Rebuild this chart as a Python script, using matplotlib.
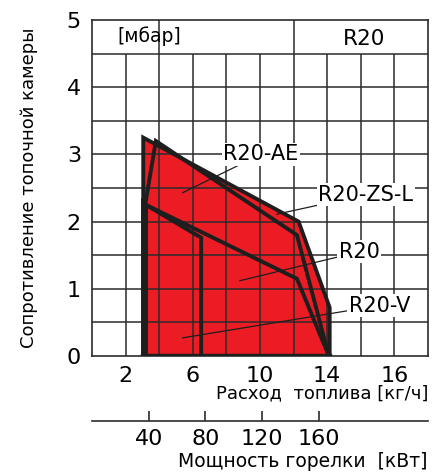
import matplotlib
matplotlib.use("Agg")
import matplotlib.pyplot as plt
import numpy as np

plt.rcParams['font.family'] = ['DejaVu Sans']

# burner working fields: fuel flow [kg/h] vs. combustion chamber pressure [mbar]
ae_x = [3.05, 3.05, 12.3, 14.15, 14.15]
ae_y = [0, 3.25, 2.0, 0.72, 0]
zsl_x = [3.2, 3.2, 3.8, 12.2, 14.1]
zsl_y = [0, 2.3, 3.2, 1.8, 0]
r20_x = [3.2, 3.2, 12.2, 14.1]
r20_y = [0, 2.25, 1.15, 0]
v_x = [3.2, 3.2, 6.5, 6.5]
v_y = [0, 2.25, 1.76, 0]

# label text, label position, leader end point
labels = ["R20-AE", "R20-ZS-L", "R20", "R20-V"]
label_xy = [(10.05, 3.0), (16.3, 2.4), (15.9, 1.55), (17.1, 0.75)]
leader_end = [(5.4, 2.43), (11.0, 2.11), (8.8, 1.12), (5.4, 0.27)]

x_ticks = [2, 6, 10, 14, 18]
x_ticklabels = ["2", "6", "10", "14", "16"]
y_ticks = [0, 1, 2, 3, 4, 5]
kw_ticks = [40, 80, 120, 160]
kw_per_kgh = 11.85

red = '#ec1c24'
grid_c = '#2b2b2b'

fig = plt.figure(figsize=(4.34, 4.73), dpi=100)
ax = fig.add_axes([0.212, 0.2474, 0.774, 0.7103])
ax.set_xlim(0, 20)
ax.set_ylim(0, 5)

# grid
for yv in np.arange(0.5, 5.0, 0.5):
    ax.axhline(yv, color=grid_c, lw=1.1, zorder=2)
for xv in range(2, 20, 2):
    top = 5 if xv in (4, 12) else 4.5
    ax.vlines(xv, 0, top, color=grid_c, lw=1.1, zorder=2)

# fills
for px, py in [(ae_x, ae_y), (zsl_x, zsl_y), (r20_x, r20_y), (v_x, v_y)]:
    ax.fill(px, py, color=red, lw=0, zorder=1)

# outlines
for px, py in [(ae_x, ae_y), (zsl_x, zsl_y), (r20_x, r20_y), (v_x, v_y)]:
    ax.plot(px, py, color='#1e1e1e', lw=2.8, solid_joinstyle='miter', zorder=4)
ax.plot([3.05, 14.15], [0, 0], color='#1e1e1e', lw=3.2, zorder=4)
ax.plot([3.1, 3.1], [0, 2.3], color='#1e1e1e', lw=4.2, zorder=4)

# labels with leaders
for t, (tx, ty), (lx, ly) in zip(labels, label_xy, leader_end):
    ax.plot([tx, lx], [ty, ly], color='#1e1e1e', lw=0.9, zorder=3)
    ax.text(tx, ty, t, fontsize=15, ha='center', va='center', zorder=5,
            bbox=dict(facecolor='white', edgecolor='none', pad=1.0))

ax.text(3.4, 4.76, "[мбар]", fontsize=13.5, ha='center', va='center', zorder=5)
ax.text(16.2, 4.72, "R20", fontsize=15.5, ha='center', va='center', zorder=5)

for s in ax.spines.values():
    s.set_color(grid_c)
    s.set_linewidth(1.2)
    s.set_zorder(3)

ax.set_xticks(x_ticks)
ax.set_xticklabels(x_ticklabels, fontsize=16)
ax.set_yticks(y_ticks)
ax.set_yticklabels([str(v) for v in y_ticks], fontsize=16)
ax.tick_params(length=0, pad=7)
ax.tick_params(axis='y', pad=8)
ax.set_ylabel("Сопротивление топочной камеры", fontsize=13)
ax.yaxis.set_label_coords(-0.16, 0.5)
ax.text(1.0, -0.11, "Расход  топлива [кг/ч]", transform=ax.transAxes,
        fontsize=13, ha='right', va='center')

# burner power scale
ax2 = fig.add_axes([0.212, 0.1106, 0.774, 0.0001])
ax2.set_xlim(0, 20 * kw_per_kgh)
for side in ('top', 'left', 'right'):
    ax2.spines[side].set_visible(False)
ax2.spines['bottom'].set_color(grid_c)
ax2.spines['bottom'].set_linewidth(1.2)
ax2.set_yticks([])
ax2.set_xticks(kw_ticks)
ax2.set_xticklabels([str(v) for v in kw_ticks], fontsize=16)
ax2.tick_params(axis='x', direction='in', length=7, width=1.2, color=grid_c, pad=6)
fig.text(0.986, 0.024, "Мощность горелки  [кВт]", fontsize=13.5, ha='right', va='center')

fig.savefig("out.png", dpi=100)
